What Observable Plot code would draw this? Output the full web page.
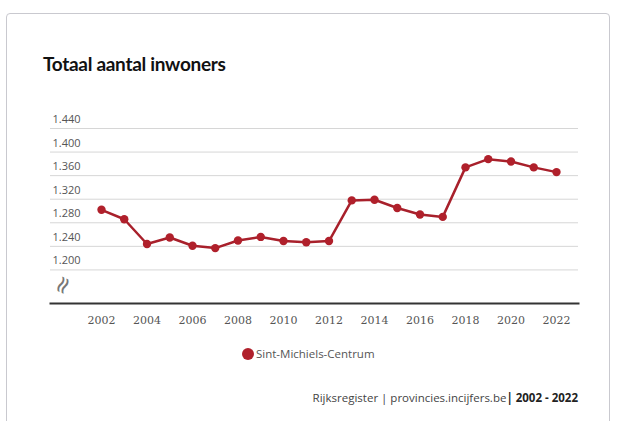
<!DOCTYPE html>
<html>
<head>
<meta charset="utf-8">
<script src="https://cdn.jsdelivr.net/npm/d3@7"></script>
<script src="https://cdn.jsdelivr.net/npm/@observablehq/plot@0.6"></script>
<style>
  html, body { margin: 0; padding: 0; background: #fff; width: 617px; height: 421px; overflow: hidden; }
  .card { position: absolute; left: 6px; top: 13px; width: 604px; height: 420px; border: 1px solid #c9c9cf; border-radius: 4px; box-sizing: border-box; background: #fff; }
  .title { position: absolute; left: 43px; top: 52px; font-family: Lato, "Open Sans", sans-serif; font-weight: 700; font-size: 19px; color: #111; letter-spacing: -0.3px; }
  #chart { position: absolute; left: 0; top: 100px; }
  .legend { position: absolute; left: 242px; top: 346px; font-family: "Open Sans", sans-serif; font-size: 11.5px; color: #555; display: flex; align-items: center; }
  .legend .dot { width: 12px; height: 12px; border-radius: 50%; background: #b0202b; margin-right: 2px; }
  .caption { position: absolute; right: 39px; top: 390px; font-family: "Open Sans", sans-serif; font-size: 11.5px; color: #444; white-space: nowrap; }
  .caption b { color: #222; }
</style>
</head>
<body>
<div class="card"></div>
<div class="title">Totaal aantal inwoners</div>
<div id="chart"></div>
<div class="legend"><span class="dot"></span>Sint-Michiels-Centrum</div>
<div class="caption">Rijksregister | provincies.incijfers.be<b>| 2002 - 2022</b></div>
<script>
const seriesName = "Sint-Michiels-Centrum";
const years = [2002, 2003, 2004, 2005, 2006, 2007, 2008, 2009, 2010, 2011, 2012,
               2013, 2014, 2015, 2016, 2017, 2018, 2019, 2020, 2021, 2022];
const inwoners = [1302, 1286, 1244, 1255, 1241, 1237, 1250, 1256, 1249, 1247, 1249,
                  1318, 1319, 1305, 1294, 1290, 1374, 1388, 1384, 1374, 1366];
const yTicks = [1200, 1240, 1280, 1320, 1360, 1400, 1440];
const xTicks = [2002, 2004, 2006, 2008, 2010, 2012, 2014, 2016, 2018, 2020, 2022];
const yDomain = [1143, 1440];

const data = years.map((y, i) => ({year: y, value: inwoners[i]}));
const fmt = d => d3.format(",")(d).replace(/,/g, ".");
const color = "#a8202b";

const chart = Plot.plot({
  width: 617,
  height: 240,
  marginLeft: 50,
  marginRight: 39,
  marginTop: 28,
  marginBottom: 37,
  x: {domain: [2002, 2022], insetLeft: 51, insetRight: 22},
  y: {domain: yDomain},
  style: {background: "transparent", overflow: "visible"},
  marks: [
    Plot.gridY(yTicks, {stroke: "#d6d6d6", strokeOpacity: 1, strokeWidth: 1}),
    Plot.axisY(yTicks, {
      tickSize: 0, tickPadding: 0, textAnchor: "start", dx: 2, dy: -9,
      tickFormat: fmt, fontSize: 11, fill: "#555",
      fontFamily: "'Open Sans', sans-serif", label: null
    }),
    Plot.axisX(xTicks, {
      tickSize: 0, tickPadding: 13, tickFormat: d => String(d),
      fontSize: 11, fill: "#555", fontFamily: "'DejaVu Serif', serif", label: null
    }),
    Plot.frame({anchor: "bottom", stroke: "#333", strokeWidth: 2}),
    Plot.text(["≈"], {frameAnchor: "bottom-left", dx: 15, dy: -6, rotate: -65, fontSize: 24, fill: "#777", fontFamily: "'DejaVu Sans', sans-serif"}),
    Plot.line(data, {x: "year", y: "value", stroke: color, strokeWidth: 2.5}),
    Plot.dot(data, {x: "year", y: "value", r: 4.2, fill: "#b0202b", stroke: null})
  ]
});
document.getElementById("chart").appendChild(chart);
</script>
</body>
</html>
